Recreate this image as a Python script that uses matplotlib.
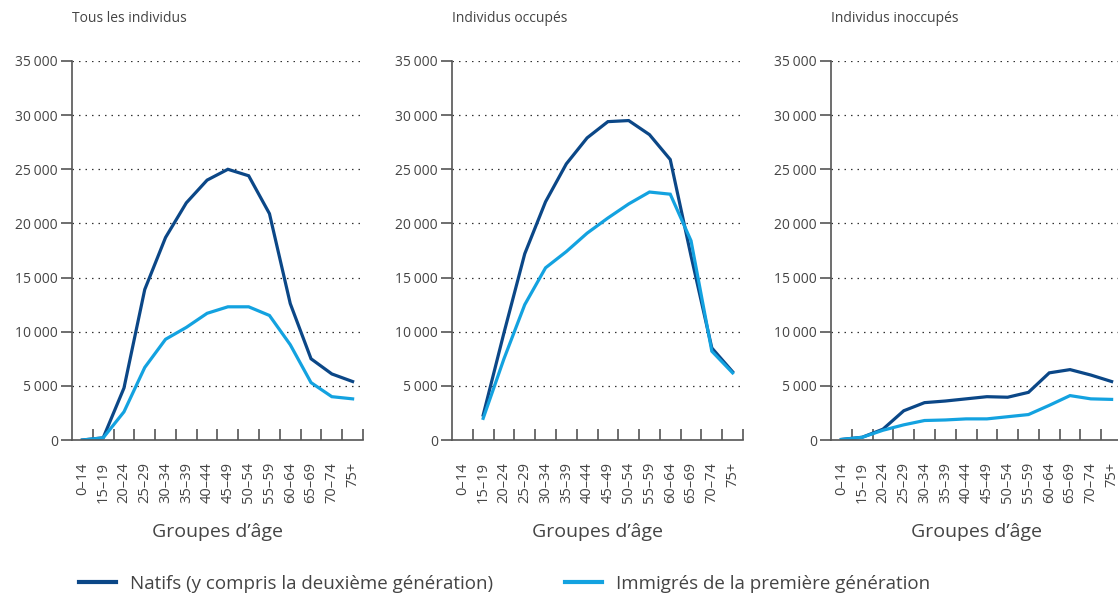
import numpy as np
import matplotlib
matplotlib.use('Agg')
import matplotlib.pyplot as plt
from matplotlib.lines import Line2D
from matplotlib.ticker import FuncFormatter

plt.rcParams['font.family'] = ['Open Sans', 'DejaVu Sans']

groupes = ['0–14', '15–19', '20–24', '25–29', '30–34', '35–39', '40–44',
           '45–49', '50–54', '55–59', '60–64', '65–69', '70–74', '75+']

titres = ['Tous les individus', 'Individus occupés', 'Individus inoccupés']

# Tous les individus
natifs_tous = [0, 200, 4800, 13900, 18700, 21900, 24000, 25000, 24400, 20900, 12600, 7500, 6100, 5400]
immig_tous = [0, 200, 2600, 6700, 9300, 10400, 11700, 12300, 12300, 11500, 8800, 5300, 4000, 3800]

# Individus occupés (pas de valeur pour 0-14)
natifs_occ = [np.nan, 2300, 9900, 17200, 22000, 25500, 27900, 29400, 29500, 28200, 25900, 17000, 8500, 6300]
immig_occ = [np.nan, 2000, 7500, 12500, 15900, 17400, 19100, 20500, 21800, 22900, 22700, 18400, 8200, 6200]

# Individus inoccupés
natifs_inocc = [50, 250, 1000, 2700, 3450, 3600, 3800, 4000, 3950, 4400, 6200, 6500, 6000, 5400]
immig_inocc = [50, 250, 900, 1400, 1800, 1850, 1950, 1950, 2150, 2350, 3200, 4100, 3800, 3750]

natifs = [natifs_tous, natifs_occ, natifs_inocc]
immig = [immig_tous, immig_occ, immig_inocc]

c_natifs = '#0b4787'
c_immig = '#13a2e0'
gris = '#555555'
texte = '#444444'

W, H = 1118, 599
fig = plt.figure(figsize=(W / 100, H / 100), dpi=100)

lefts = [72, 452, 831]
x = np.arange(len(groupes))


def fmt(v, pos):
    if v == 0:
        return '0'
    return f'{int(v):,}'.replace(',', '\u202f')


for i in range(3):
    ax = fig.add_axes([lefts[i] / W, 1 - 440 / H, 291 / W, 379 / H])
    ax.plot(x, natifs[i], color=c_natifs, lw=2.3, solid_joinstyle='miter')
    ax.plot(x, immig[i], color=c_immig, lw=2.3, solid_joinstyle='miter')
    ax.set_xlim(-0.5, len(groupes) - 0.5)
    ax.set_ylim(0, 35000)
    ax.set_yticks(np.arange(0, 35001, 5000))
    ax.yaxis.set_major_formatter(FuncFormatter(fmt))
    for yv in np.arange(5000, 35001, 5000):
        ax.axhline(yv, color='#333333', lw=0.9, ls=(0, (1.2, 4)), zorder=0)
    for s in ['top', 'right']:
        ax.spines[s].set_visible(False)
    for s in ['left', 'bottom']:
        ax.spines[s].set_color(gris)
        ax.spines[s].set_linewidth(1.2)
    ax.tick_params(axis='y', length=8, width=1.2, color=gris, labelcolor=texte,
                   labelsize=10, pad=2)
    ax.set_xticks(x + 0.5)
    ax.set_xticklabels([])
    ax.set_xticks(x, minor=True)
    ax.set_xticklabels(groupes, minor=True, rotation=90)
    ax.tick_params(axis='x', which='major', direction='in', length=8, width=1.2, color=gris)
    ax.tick_params(axis='x', which='minor', length=0, labelsize=10.5, labelcolor=texte, pad=16)
    ax.set_xlabel('Groupes d’âge', fontsize=14, color=texte, labelpad=14)
    ax.text(0, 1 + 42 / 379, titres[i], transform=ax.transAxes, fontsize=10,
            color=texte, ha='left', va='center')

handles = [Line2D([], [], color=c_natifs, lw=3),
           Line2D([], [], color=c_immig, lw=3)]
labels = ['Natifs (y compris la deuxième génération)', 'Immigrés de la première génération']
fig.legend(handles, labels, loc='center left', bbox_to_anchor=(62 / W, 1 - 584 / H),
           ncol=2, frameon=False, fontsize=13.5, handlelength=2.0, handletextpad=0.75,
           columnspacing=3.8, labelcolor=texte)

fig.savefig('out.png', dpi=100)
